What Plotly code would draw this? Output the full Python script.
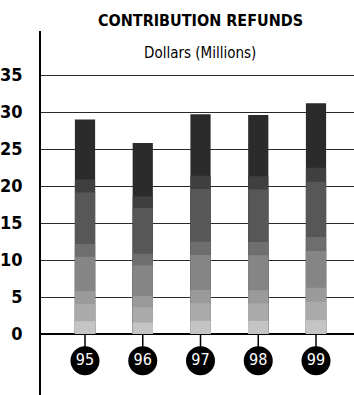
import plotly.graph_objects as go

# Contribution refunds by fiscal year, in millions of dollars
years = ["95", "96", "97", "98", "99"]
refunds = [29.0, 25.8, 29.7, 29.6, 31.2]
y_ticks = [0, 5, 10, 15, 20, 25, 30, 35]

# Shaded bands of each bar: share of the bar height and its grey tone
band_shares = [1.0, 0.72, 0.66, 0.42, 0.36, 0.20, 0.14, 0.06]
band_colors = ["#2b2b2b", "#404040", "#575757", "#6e6e6e",
               "#858585", "#9a9a9a", "#aaaaaa", "#c4c4c4"]

FONT = "DejaVu Sans Condensed, Liberation Sans Narrow, Arial Narrow, sans-serif"
pos = list(range(len(years)))

fig = go.Figure()

for share, color in zip(band_shares, band_colors):
    fig.add_trace(go.Bar(
        x=pos, y=[v * share for v in refunds], width=0.35,
        marker=dict(color=color, line=dict(width=0)),
        hoverinfo="skip", showlegend=False,
    ))

# Stems from the baseline down to the year badges
stem_x, stem_y = [], []
for p in pos:
    stem_x += [p, p, None]
    stem_y += [0, -2.0, None]
fig.add_trace(go.Scatter(
    x=stem_x, y=stem_y, mode="lines",
    line=dict(color="black", width=1.5),
    hoverinfo="skip", showlegend=False, cliponaxis=False,
))

# Round year badges
fig.add_trace(go.Scatter(
    x=pos, y=[-3.6] * len(pos), mode="markers+text",
    marker=dict(size=29, color="black", line=dict(width=0)),
    text=years, textposition="middle center",
    textfont=dict(family=FONT, size=16, color="white"),
    hoverinfo="skip", showlegend=False, cliponaxis=False,
))

fig.update_layout(
    width=354, height=395,
    margin=dict(l=41, r=0, t=31, b=0),
    paper_bgcolor="white", plot_bgcolor="white",
    barmode="overlay",
    xaxis=dict(
        range=[-0.762, 4.658], showgrid=False, zeroline=False,
        showticklabels=False, ticks="", fixedrange=True,
    ),
    yaxis=dict(
        range=[-8.24, 40.95], tickvals=y_ticks,
        showgrid=True, gridcolor="#2a2a2a", gridwidth=1,
        zeroline=True, zerolinecolor="black", zerolinewidth=2,
        showline=True, linecolor="black", linewidth=1.5,
        ticks="", ticklabelstandoff=13,
        tickfont=dict(family=FONT, size=18, color="black", weight="bold"),
        layer="below traces",
    ),
    annotations=[
        dict(text="<b>CONTRIBUTION REFUNDS</b>", xref="paper", yref="paper",
             x=0.508, y=1.0275, xanchor="center", yanchor="middle",
             showarrow=False, font=dict(family=FONT, size=16, color="black")),
        dict(text="Dollars (Millions)", xref="paper", yref="paper",
             x=0.508, y=0.94, xanchor="center", yanchor="middle",
             showarrow=False, font=dict(family=FONT, size=15, color="black")),
    ],
)

fig.write_html("out.html")
